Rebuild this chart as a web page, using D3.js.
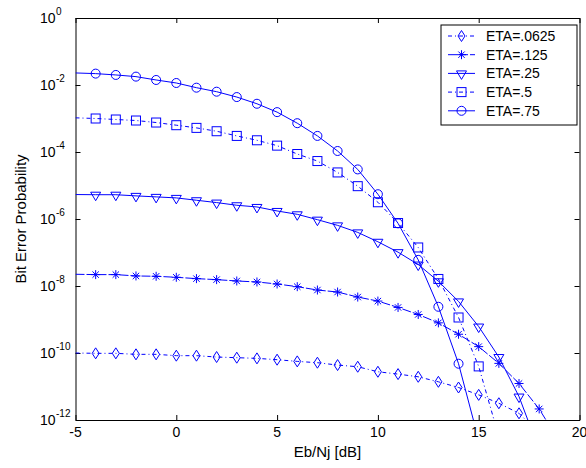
<!DOCTYPE html>
<html>
<head>
<meta charset="utf-8">
<script src="https://cdn.jsdelivr.net/npm/d3@7/dist/d3.min.js"></script>
<style>
  body { margin: 0; background: #fff; }
  text { font-family: "Liberation Sans", Arial, sans-serif; fill: #000; }
</style>
</head>
<body>
<div id="chart"></div>
<script>
// x values (Eb/Nj in dB) and log10 of bit error probability per ETA
const ebnj = d3.range(-5, 20, 1);
const etaLabels = ['ETA=.0625', 'ETA=.125', 'ETA=.25', 'ETA=.5', 'ETA=.75'];

const logEta0625 = [-10.0, -10.01, -10.01, -10.04, -10.04, -10.08, -10.08, -10.12, -10.14, -10.16, -10.20, -10.25, -10.29,
  -10.36, -10.41, -10.56, -10.63, -10.71, -10.86, -11.03, -11.25, -11.50, -11.80, -12.4];
const logEta125 = [-7.65, -7.66, -7.66, -7.70, -7.71, -7.74, -7.78, -7.81, -7.85, -7.88, -7.94, -8.02, -8.12,
  -8.18, -8.33, -8.45, -8.64, -8.85, -9.10, -9.44, -9.81, -10.31, -10.91, -11.67, -12.65];
const logEta25 = [-5.27, -5.275, -5.275, -5.31, -5.34, -5.37, -5.44, -5.51, -5.59, -5.64, -5.76, -5.86, -6.02,
  -6.19, -6.40, -6.68, -6.99, -7.36, -7.86, -8.46, -9.21, -10.12, -11.3, -12.9];
const logEta5 = [-2.98, -3.0, -3.03, -3.06, -3.12, -3.2, -3.28, -3.38, -3.52, -3.65, -3.81, -4.06, -4.27,
  -4.61, -5.02, -5.50, -6.12, -6.85, -7.79, -8.94, -10.40, -12.5];
const logEta75 = [-1.64, -1.66, -1.70, -1.75, -1.85, -1.94, -2.08, -2.20, -2.36, -2.56, -2.81, -3.14, -3.52,
  -3.97, -4.52, -5.26, -6.13, -7.22, -8.62, -10.32, -12.6];

const xTicks = [-5, 0, 5, 10, 15, 20];
const yTickExps = [0, -2, -4, -6, -8, -10, -12];

const series = [
  { name: etaLabels[0], vals: logEta0625, marker: 'diamond', dash: '4,3,1,3' },
  { name: etaLabels[1], vals: logEta125, marker: 'star', dash: '9,2' },
  { name: etaLabels[2], vals: logEta25, marker: 'tri', dash: null },
  { name: etaLabels[3], vals: logEta5, marker: 'square', dash: '4,3,1,3' },
  { name: etaLabels[4], vals: logEta75, marker: 'circle', dash: null }
];

const W = 586, H = 468;
const box = { left: 75.5, right: 579.5, top: 18, bottom: 420 };
const blue = '#0000ff';

const svg = d3.select('#chart').append('svg').attr('width', W).attr('height', H);

const x = d3.scaleLinear().domain([-5, 20]).range([box.left, box.right]);
const y = d3.scaleLog().domain([1e-12, 1]).range([box.bottom, box.top]);

svg.append('defs').append('clipPath').attr('id', 'plotclip')
  .append('rect')
  .attr('x', box.left).attr('y', box.top)
  .attr('width', box.right - box.left).attr('height', box.bottom - box.top);

// axes box with inward ticks on all sides
const tickLen = 5;
const axisG = svg.append('g');
axisG.append('g').attr('transform', `translate(0,${box.bottom})`)
  .call(d3.axisBottom(x).tickValues(xTicks).tickSizeInner(-tickLen).tickSizeOuter(0).tickFormat(''));
axisG.append('g').attr('transform', `translate(0,${box.top})`)
  .call(d3.axisTop(x).tickValues(xTicks).tickSizeInner(-tickLen).tickSizeOuter(0).tickFormat(''));
axisG.append('g').attr('transform', `translate(${box.left},0)`)
  .call(d3.axisLeft(y).tickValues(yTickExps.map(e => Math.pow(10, e))).tickSizeInner(-tickLen).tickSizeOuter(0).tickFormat(''));
axisG.append('g').attr('transform', `translate(${box.right},0)`)
  .call(d3.axisRight(y).tickValues(yTickExps.map(e => Math.pow(10, e))).tickSizeInner(-tickLen).tickSizeOuter(0).tickFormat(''));
axisG.selectAll('.domain').attr('stroke', '#000').attr('stroke-width', 1);
axisG.selectAll('.tick line').attr('stroke', '#000');

// tick labels
svg.selectAll('.xlab').data(xTicks).enter().append('text')
  .attr('x', d => x(d)).attr('y', 436.5)
  .attr('text-anchor', 'middle').style('font-size', '14px')
  .text(d => d);

const yl = svg.selectAll('.ylab').data(yTickExps).enter().append('g');
yl.append('text')
  .attr('x', 55.5).attr('y', d => y(Math.pow(10, d)) + 5.3)
  .attr('text-anchor', 'end').style('font-size', '14px')
  .text('10');
yl.append('text')
  .attr('x', 56).attr('y', d => y(Math.pow(10, d)) - 3.3)
  .style('font-size', '10px')
  .text(d => d === 0 ? '0' : '-' + Math.abs(d));

// axis titles
svg.append('text').attr('x', (box.left + box.right) / 2).attr('y', 457)
  .attr('text-anchor', 'middle').style('font-size', '15px').text('Eb/Nj [dB]');
svg.append('text').attr('transform', `translate(26,${(box.top + box.bottom) / 2}) rotate(-90)`)
  .attr('text-anchor', 'middle').style('font-size', '15px').text('Bit Error Probability');

function drawMarker(g, type, cx, cy) {
  if (type === 'circle') {
    g.append('circle').attr('cx', cx).attr('cy', cy).attr('r', 4.5)
      .attr('fill', 'none').attr('stroke', blue);
  } else if (type === 'square') {
    g.append('rect').attr('x', cx - 4.5).attr('y', cy - 4.5).attr('width', 9).attr('height', 9)
      .attr('fill', 'none').attr('stroke', blue);
  } else if (type === 'diamond') {
    g.append('path').attr('d', `M${cx},${cy - 5.5}L${cx + 3.5},${cy}L${cx},${cy + 5.5}L${cx - 3.5},${cy}Z`)
      .attr('fill', 'none').attr('stroke', blue);
  } else if (type === 'tri') {
    g.append('path').attr('d', `M${cx - 5},${cy - 2.5}L${cx + 5},${cy - 2.5}L${cx},${cy + 6}Z`)
      .attr('fill', 'none').attr('stroke', blue);
  } else if (type === 'star') {
    const r = 4.5, q = 3.2;
    g.append('path')
      .attr('d', `M${cx - r},${cy}L${cx + r},${cy}M${cx},${cy - r}L${cx},${cy + r}` +
        `M${cx - q},${cy - q}L${cx + q},${cy + q}M${cx - q},${cy + q}L${cx + q},${cy - q}`)
      .attr('fill', 'none').attr('stroke', blue);
  }
}

const plot = svg.append('g').attr('clip-path', 'url(#plotclip)');
const line = d3.line().x(d => x(d[0])).y(d => y(d[1]));

series.forEach(s => {
  const pts = s.vals.map((v, i) => [ebnj[i], Math.pow(10, v)]);
  plot.append('path').datum(pts)
    .attr('d', line)
    .attr('fill', 'none').attr('stroke', blue).attr('stroke-width', 1)
    .attr('stroke-dasharray', s.dash);
  const mg = plot.append('g');
  pts.filter(p => p[0] > -5).forEach(p => drawMarker(mg, s.marker, x(p[0]), y(p[1])));
});

// legend
const lg = svg.append('g');
lg.append('rect').attr('x', 441).attr('y', 25).attr('width', 136).attr('height', 100)
  .attr('fill', '#fff').attr('stroke', '#000');
series.forEach((s, i) => {
  const ry = 36 + i * 18.7;
  lg.append('line').attr('x1', 448).attr('x2', 475).attr('y1', ry).attr('y2', ry)
    .attr('stroke', blue).attr('stroke-dasharray', s.dash);
  drawMarker(lg, s.marker, 461.5, ry);
  lg.append('text').attr('x', 486).attr('y', ry + 5).style('font-size', '14px').text(s.name);
});
</script>
</body>
</html>
